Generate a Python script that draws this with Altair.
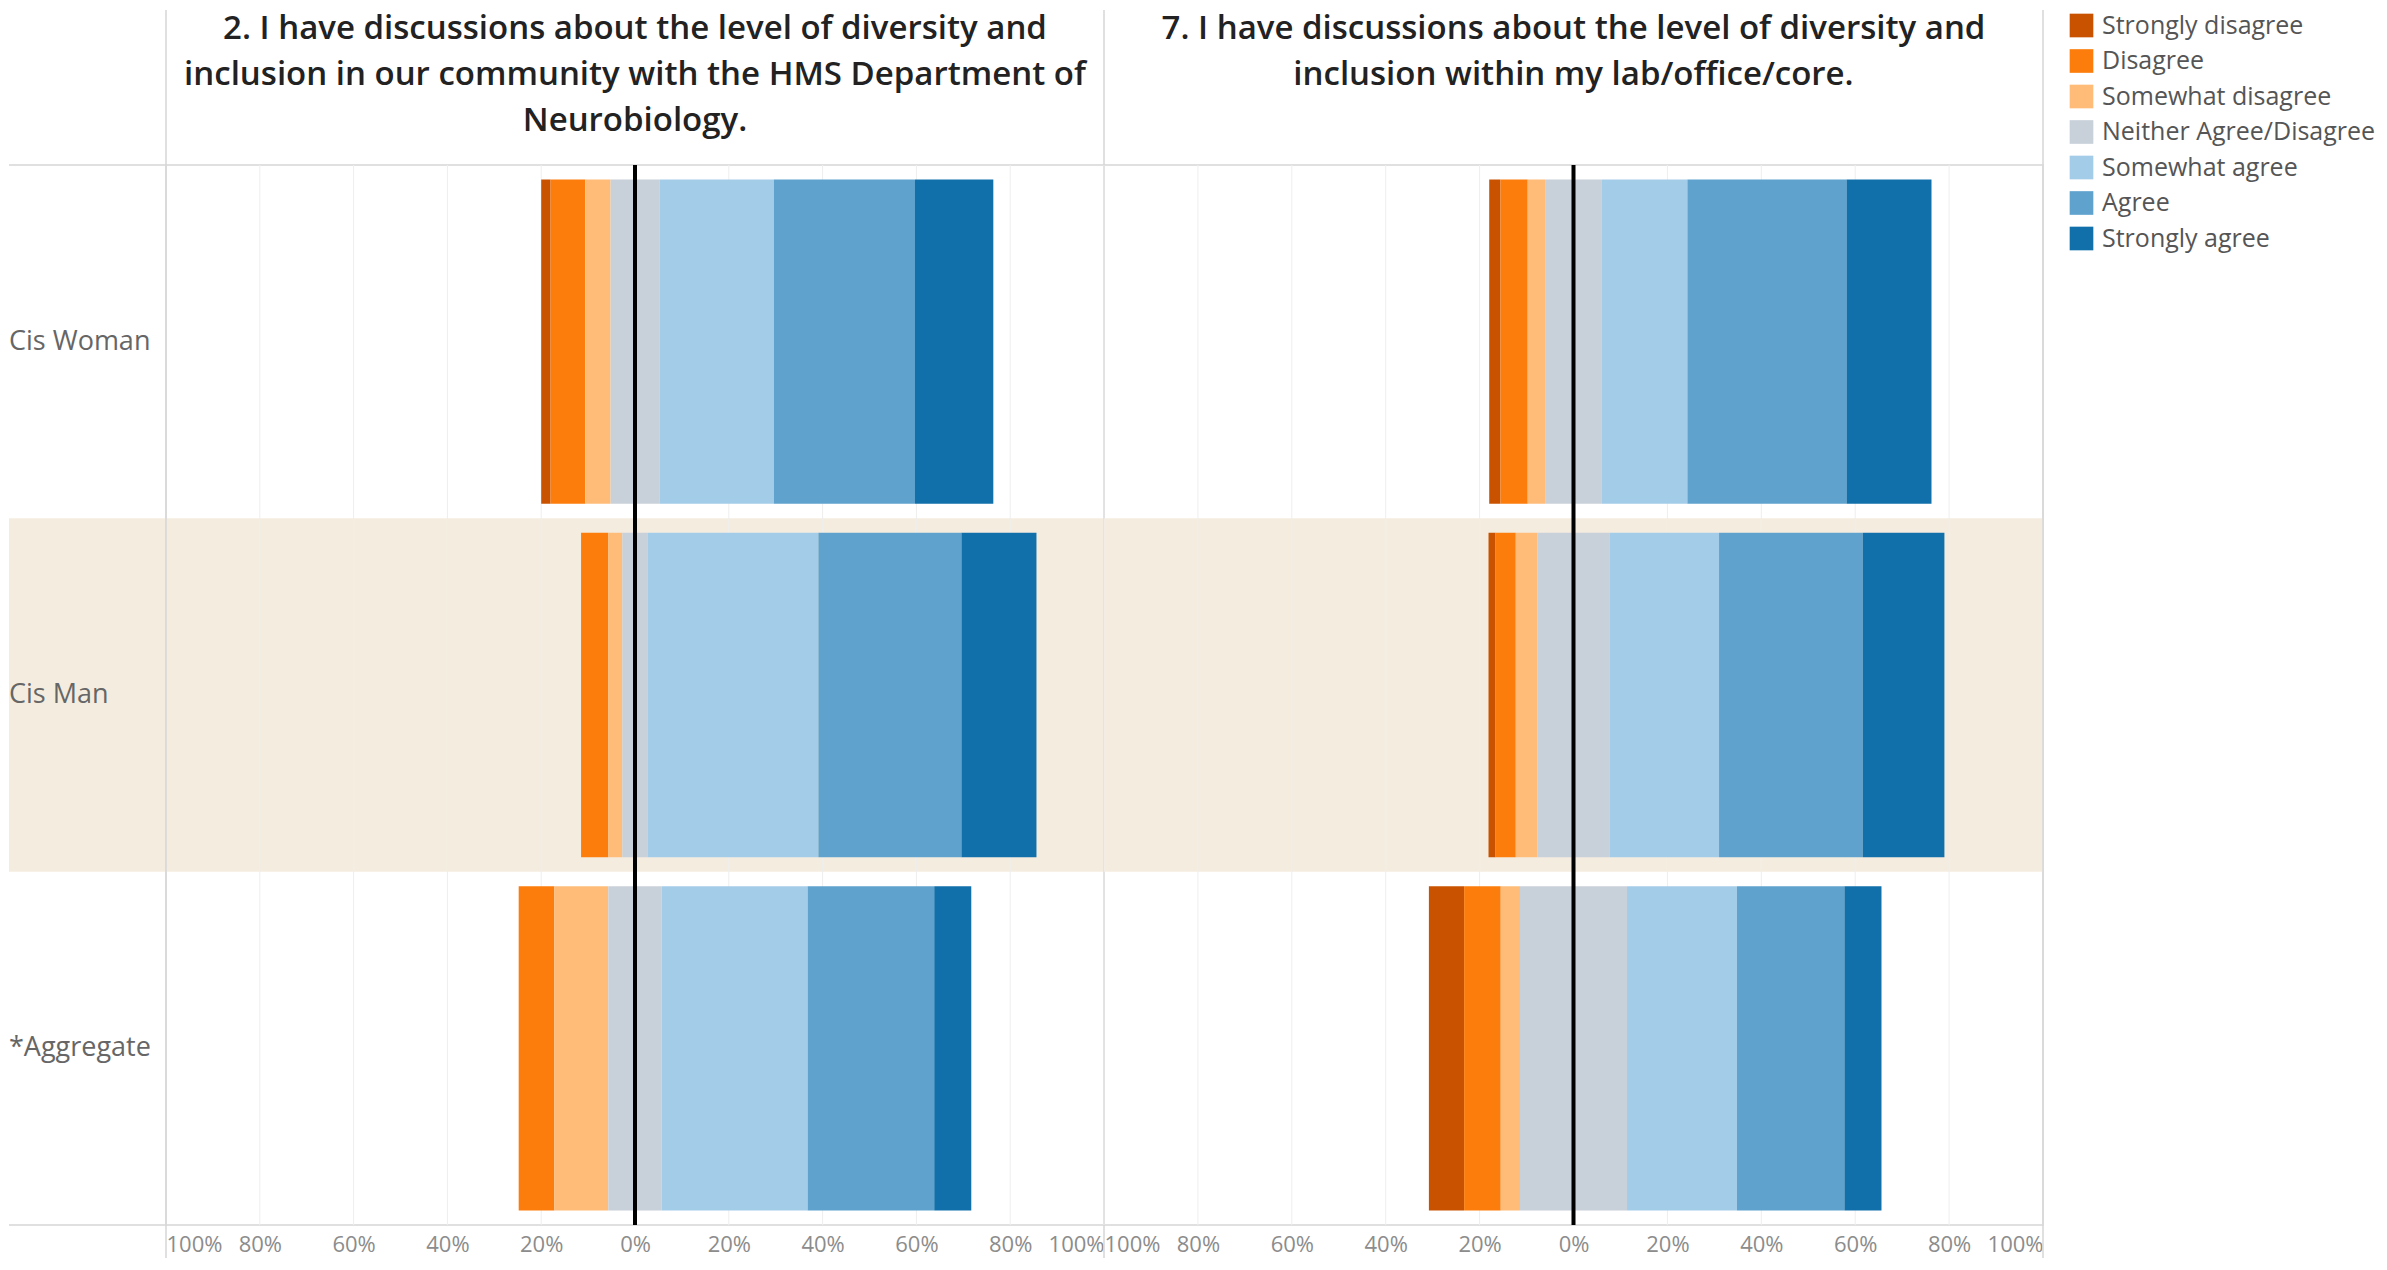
import altair as alt
import pandas as pd

# ---------------- data ----------------
categories = ["Strongly disagree", "Disagree", "Somewhat disagree",
              "Neither Agree/Disagree", "Somewhat agree", "Agree", "Strongly agree"]
colors = ["#c85200", "#fc7d0b", "#ffbc79", "#c8d0d9", "#a3cce9", "#5fa2ce", "#1170aa"]
groups = ["Cis Woman", "Cis Man", "*Aggregate"]
highlight_group = "Cis Man"

q2_title = ["2. I have discussions about the level of diversity and",
            "inclusion in our community with the HMS Department of",
            "Neurobiology."]
q7_title = ["7. I have discussions about the level of diversity and",
            "inclusion within my lab/office/core."]

# percent of respondents per category (same order as categories)
q2_cis_woman = [2.0, 7.4, 5.4, 10.4, 24.4, 30.1, 16.7]
q2_cis_man = [0.0, 5.8, 3.0, 5.4, 36.4, 30.5, 16.0]
q2_aggregate = [0.0, 7.6, 11.5, 11.4, 31.1, 27.0, 7.9]

q7_cis_woman = [2.4, 5.8, 3.7, 12.1, 18.2, 33.9, 18.1]
q7_cis_man = [1.5, 4.3, 4.6, 15.4, 23.3, 30.6, 17.4]
q7_aggregate = [7.5, 7.8, 4.1, 22.8, 23.4, 22.9, 7.9]

tick_values = [-1.0, -0.8, -0.6, -0.4, -0.2, 0.0, 0.2, 0.4, 0.6, 0.8, 1.0]

# ---------------- style ----------------
FONT = "Open Sans"
TITLE_FONT = "Open Sans"
BEIGE = "#f4eddf"
LINE = "#d6d6d6"
GRID = "#eeeeee"
HW = 157      # header column width
W1 = 938
W2 = 939
H = 1060
TOP = 155     # header (title) area above plots


def diverging(rows):
    recs = []
    for g, vals in zip(groups, rows):
        fr = [v / 100.0 for v in vals]
        pos = -(fr[0] + fr[1] + fr[2] + fr[3] / 2.0)
        for c, f in zip(categories, fr):
            recs.append({"group": g, "category": c, "start": pos, "end": pos + f, "pct": f})
            pos += f
    return pd.DataFrame(recs)


ysc = alt.Scale(domain=groups, paddingInner=0, paddingOuter=0)
xsc = alt.Scale(domain=[-1, 1], nice=False, zero=False)
xaxis = alt.Axis(values=tick_values, labelExpr="format(abs(datum.value), '.0%')",
                 grid=False, ticks=False, domain=False, labelFlush=True,
                 labelFont=FONT, labelFontSize=22, labelColor="#8c8c8c",
                 labelPadding=9, title=None)
color_scale = alt.Scale(domain=categories, range=colors)


def panel(df, title_lines, W, show_legend, left_rule):
    band_df = pd.DataFrame({"group": [highlight_group], "x0": [-1.0], "x1": [1.0]})
    band = alt.Chart(band_df).mark_rect(color=BEIGE).encode(
        x=alt.X("x0:Q", scale=xsc, axis=xaxis), x2="x1:Q",
        y=alt.Y("group:N", scale=ysc, axis=None))

    grid = alt.Chart(pd.DataFrame({"t": tick_values})).mark_rule(
        color=GRID, strokeWidth=1).encode(x=alt.X("t:Q", scale=xsc, axis=xaxis))

    if show_legend:
        legend = alt.Legend(orient="none", legendX=W + 26, legendY=-TOP + 3, title=None,
                            symbolType="square", symbolSize=560, symbolStrokeWidth=0,
                            labelFont=FONT, labelFontSize=25, labelColor="#555555",
                            labelOffset=8, rowPadding=9.5, labelLimit=500, padding=0)
    else:
        legend = None
    bars = alt.Chart(df).mark_bar(height=alt.RelativeBandSize(0.918)).encode(
        x=alt.X("start:Q", scale=xsc, axis=xaxis), x2="end:Q",
        y=alt.Y("group:N", scale=ysc, axis=None),
        color=alt.Color("category:N", scale=color_scale, sort=categories, legend=legend))

    zero = alt.Chart(pd.DataFrame({"z": [0.0]})).mark_rule(
        color="#000000", strokeWidth=4).encode(x=alt.X("z:Q", scale=xsc, axis=xaxis))

    seps = []
    xs = [0, W] if left_rule else [W]
    for xv in xs:
        seps.append(alt.Chart(pd.DataFrame({"k": [0]})).mark_rule(color=LINE, strokeWidth=1.5).encode(
            x=alt.value(xv), y=alt.value(-TOP), y2=alt.value(H + 33)))

    title_df = pd.DataFrame({"t": ["\n".join(title_lines)]})
    title = alt.Chart(title_df).mark_text(
        align="center", baseline="middle", lineBreak="\n", lineHeight=46,
        font=TITLE_FONT, fontSize=33, fontWeight=600, color="#222222").encode(
        x=alt.value(W / 2), y=alt.value(-TOP + 19), text="t:N")

    return alt.layer(band, grid, bars, zero, *seps, title).properties(width=W, height=H)


left = panel(diverging([q2_cis_woman, q2_cis_man, q2_aggregate]), q2_title, W1, False, True)
right = panel(diverging([q7_cis_woman, q7_cis_man, q7_aggregate]), q7_title, W2, True, False)

hdr_band = alt.Chart(pd.DataFrame({"group": [highlight_group]})).mark_rect(color=BEIGE).encode(
    y=alt.Y("group:N", scale=ysc, axis=None), x=alt.value(0), x2=alt.value(HW))
hdr_text = alt.Chart(pd.DataFrame({"group": groups})).mark_text(
    align="left", baseline="middle", font=FONT, fontSize=27, color="#666666").encode(
    y=alt.Y("group:N", scale=ysc, axis=None), x=alt.value(0), text="group:N")
hdr_top = alt.Chart(pd.DataFrame({"k": [0]})).mark_rule(color=LINE, strokeWidth=1.5).encode(
    x=alt.value(0), x2=alt.value(HW), y=alt.value(0))
hdr_bot = alt.Chart(pd.DataFrame({"k": [0]})).mark_rule(color=LINE, strokeWidth=1.5).encode(
    x=alt.value(0), x2=alt.value(HW), y=alt.value(H))
header = alt.layer(hdr_band, hdr_text, hdr_top, hdr_bot).properties(
    width=HW, height=H, view=alt.ViewBackground(stroke=None))

chart = alt.hconcat(header, left, right, spacing=0, bounds="flush").resolve_scale(
    x="independent", color="independent").resolve_legend(color="independent").properties(
    padding=0).configure_view(stroke=LINE, strokeWidth=1.5)

chart.save("out.html", embed_options={"renderer": "svg", "actions": False})
